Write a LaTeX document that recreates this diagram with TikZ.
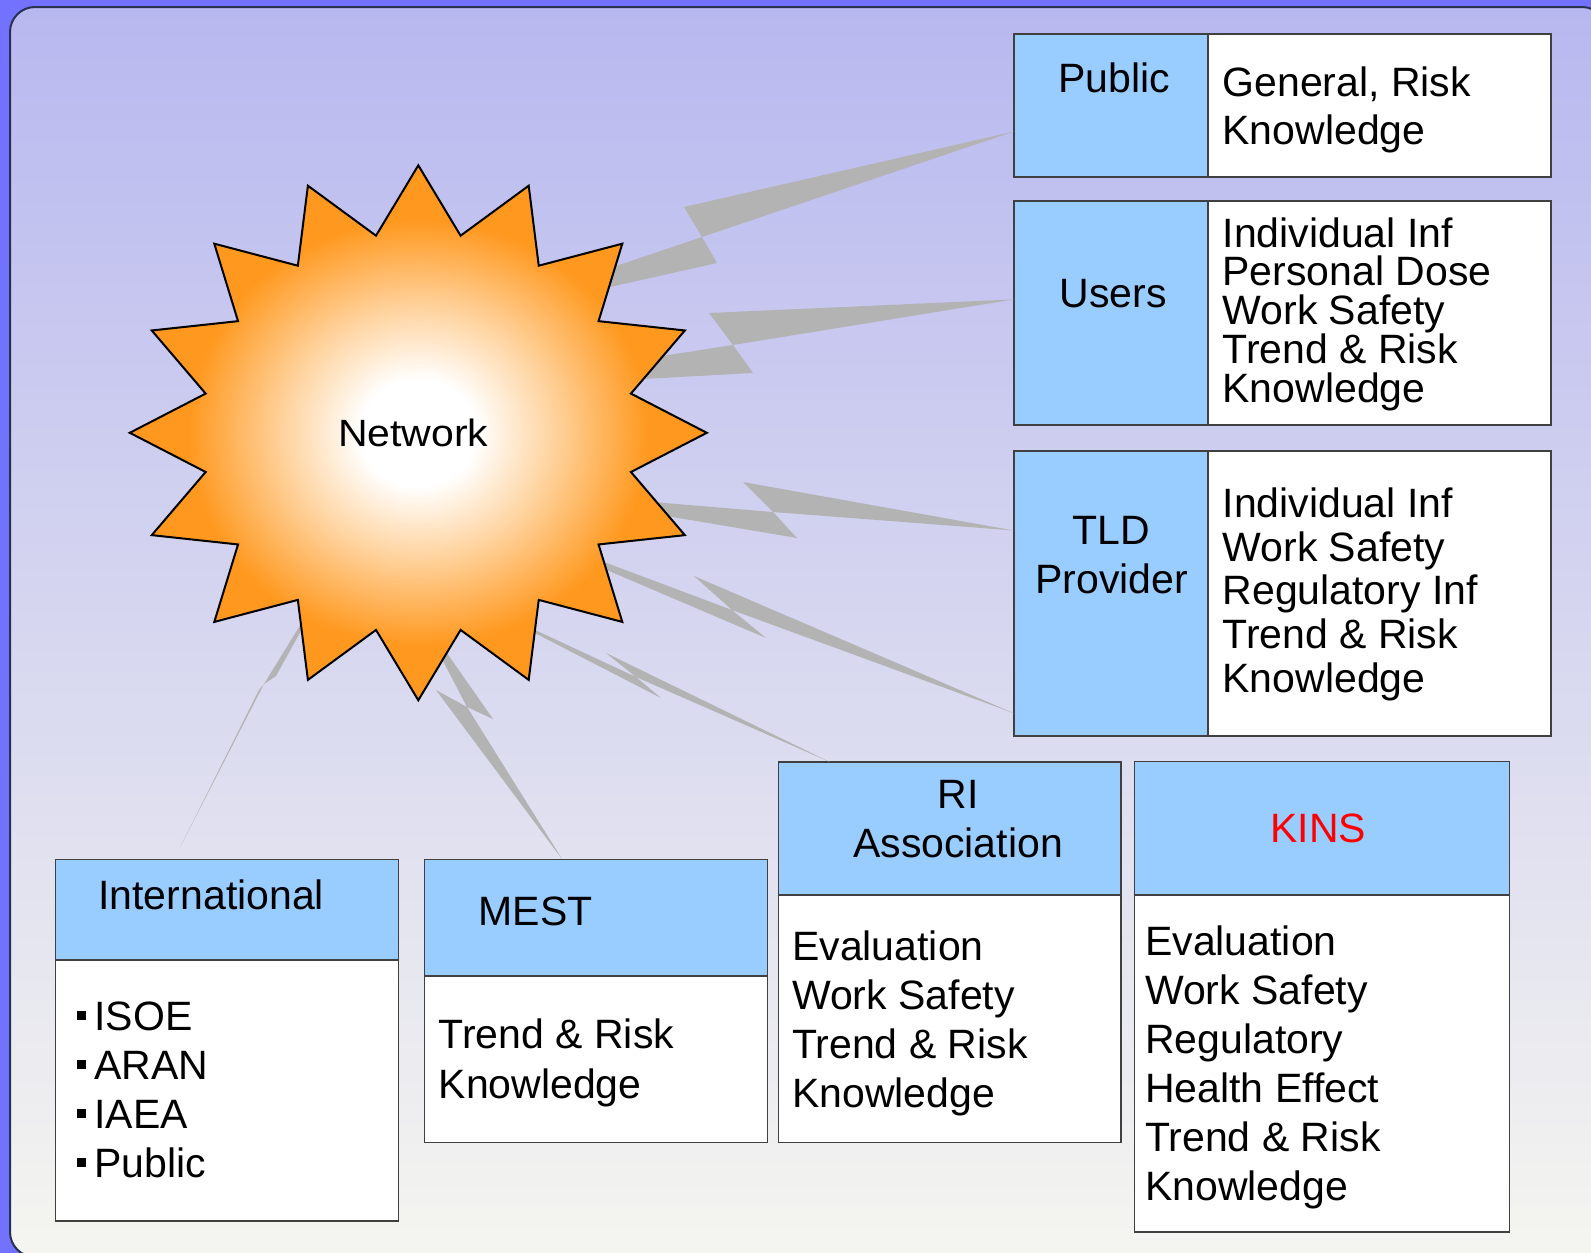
\documentclass[tikz,border=0pt]{standalone}
\usepackage{fontspec}
\setmainfont{Liberation Sans}
\usetikzlibrary{shapes.geometric,positioning,calc}

\definecolor{bgblue}{RGB}{114,114,255}
\definecolor{bgtop}{RGB}{184,184,240}
\definecolor{bgbot}{RGB}{245,245,240}
\definecolor{framecol}{RGB}{40,50,80}
\definecolor{headblue}{RGB}{153,204,255}
\definecolor{boltgray}{RGB}{179,179,179}
\definecolor{burstorange}{RGB}{255,152,30}

\pgfdeclareradialshading{burst}{\pgfpoint{0bp}{0bp}}{color(0bp)=(white); color(5bp)=(white); color(12bp)=(burstorange!45!white); color(20bp)=(burstorange); color(50bp)=(burstorange)}

\newcommand\sqbul{\rule[10pt]{9pt}{9pt}\hspace{8.7pt}}

\begin{document}
\begin{tikzpicture}[x=1pt, y=-1pt,
        headsty/.style={
            draw=black!75, line width=1.5pt,
            fill=headblue, rectangle,
            inner sep=0pt, outer sep=0pt,
            anchor=north west,
        },
        cellsty/.style={
            draw=black!75, line width=1.5pt,
            fill=white, rectangle,
            inner sep=0pt, outer sep=0pt,
        },
        txtsty/.style={inner sep=0pt, font=\fontsize{41}{49}\selectfont},
        liststy/.style={inner sep=0pt, align=left, anchor=north west, font=\fontsize{41}{#1}\selectfont},
        boltsty/.style={fill=boltgray},
        burststy/.style={
            star, star points=16, star point ratio=1.331,
            minimum size=577pt, inner sep=0pt,
            draw=black, line width=2pt,
            shade, shading=burst,
            font=\fontsize{41}{49}\selectfont,
        },
    ]

    \useasboundingbox (0,0) rectangle (1591,1253);

    % background
    \begin{scope}
        \clip (0,0) rectangle (1591,1253);
        \fill[bgblue] (0,0) rectangle (1591,1253);
        \draw[draw=framecol, line width=2pt, rounded corners=25pt, top color=bgtop, bottom color=bgbot] (10,7) rectangle (1607,1257);
    \end{scope}

    % right column
    \node[headsty, minimum width=194pt, minimum height=143pt] (pubh) at (1014,34) {};
    \node[cellsty, minimum width=343pt, minimum height=143pt, right=0pt of pubh] (pubb) {};
    \node[txtsty, anchor=base] (pubt) at (1113.9,92.7) {Public};
    \node[liststy=48] (publ) at (1222.4,66.5) {General, Risk\\Knowledge};

    \node[headsty, minimum width=194pt, minimum height=224pt] (usrh) at (1014,201) {};
    \node[cellsty, minimum width=343pt, minimum height=224pt, right=0pt of usrh] (usrb) {};
    \node[txtsty, anchor=base] (usrt) at (1113,307.3) {Users};
    \node[liststy=38.8] (usrl) at (1222.4,217.2) {Individual Inf\\Personal Dose\\Work Safety\\Trend \& Risk\\Knowledge};

    \node[headsty, minimum width=194pt, minimum height=285pt] (tldh) at (1014,451) {};
    \node[cellsty, minimum width=343pt, minimum height=285pt, right=0pt of tldh] (tldb) {};
    \node[txtsty, align=center, anchor=north] (tldt) at (1111.6,516.5) {TLD\\Provider};
    \node[liststy=43.6] (tldl) at (1222.4,487.8) {Individual Inf\\Work Safety\\Regulatory Inf\\Trend \& Risk\\Knowledge};

    % bottom row
    \node[headsty, minimum width=343pt, minimum height=100.7pt] (intlh) at (55.5,859.3) {};
    \node[cellsty, minimum width=343pt, minimum height=261pt, below=0pt of intlh] (intlb) {};
    \node[txtsty, anchor=base west] (intlt) at (98.2,909.3) {International};
    \node[liststy=49] (intll) at (76.5,1001.5) {\sqbul ISOE\\\sqbul ARAN\\\sqbul IAEA\\\sqbul Public};

    \node[headsty, minimum width=343pt, minimum height=116.7pt] (mesth) at (424.4,859.3) {};
    \node[cellsty, minimum width=343pt, minimum height=166.7pt, below=0pt of mesth] (mestb) {};
    \node[txtsty, anchor=base west] (mestt) at (478.4,925.7) {MEST};
    \node[liststy=49.4] (mestl) at (438.5,1018.8) {Trend \& Risk\\Knowledge};

    \node[headsty, minimum width=342.3pt, minimum height=133pt] (rih) at (778.7,762) {};
    \node[cellsty, minimum width=342.3pt, minimum height=247.7pt, below=0pt of rih] (rib) {};
    \node[txtsty, align=center, anchor=north] (rit) at (958,779.8) {RI\\Association};
    \node[liststy=49.1] (ril) at (792,930.5) {Evaluation\\Work Safety\\Trend \& Risk\\Knowledge};

    \node[headsty, minimum width=375pt, minimum height=133.3pt] (kinsh) at (1134.3,761.7) {};
    \node[cellsty, minimum width=375pt, minimum height=337pt, below=0pt of kinsh] (kinsb) {};
    \node[txtsty, anchor=base, text=red] (kinst) at (1318.3,842.7) {KINS};
    \node[liststy=49] (kinsl) at (1145,925.5) {Evaluation\\Work Safety\\Regulatory\\Health Effect\\Trend \& Risk\\Knowledge};

    % lightning links, inner ends hidden by the burst
    \coordinate (hub) at (418.3,432.8);
    \coordinate (intltip) at ([yshift=12pt]intlh.133);
    \foreach \from/\a/\x/\b/\q in {
        pubh.195/{684,207}/{702,237}/{717,263}/{23,-108},
        usrh.172/{709,313}/{733,345}/{753,373}/{26,-43},
        tldh.147/{743,482}/{773,512}/{797,538}/{99,58},
        tldh.231/{694,576}/{732,610}/{766,638}/{52,79},
        rih.151/{606,653}/{636,677}/{661,698}/{52,167},
        mesth.120/{436,690}/{467,707}/{493,719}/{-3,175},
        intltip/{259,690}/{264,684}/{276,676}/{-78,127}}
        \fill[boltsty] (\from) -- (\a) -- (\x) -- cycle
            (\x) -- (\b) -- ($(hub)+(\q)$) -- cycle;

    % the burst
    \begin{scope}[shift={(hub)}, yscale=0.927]
        \node[burststy, transform shape] (net) at (0,0) {\hspace*{-10pt}Network};
    \end{scope}

\end{tikzpicture}
\end{document}
